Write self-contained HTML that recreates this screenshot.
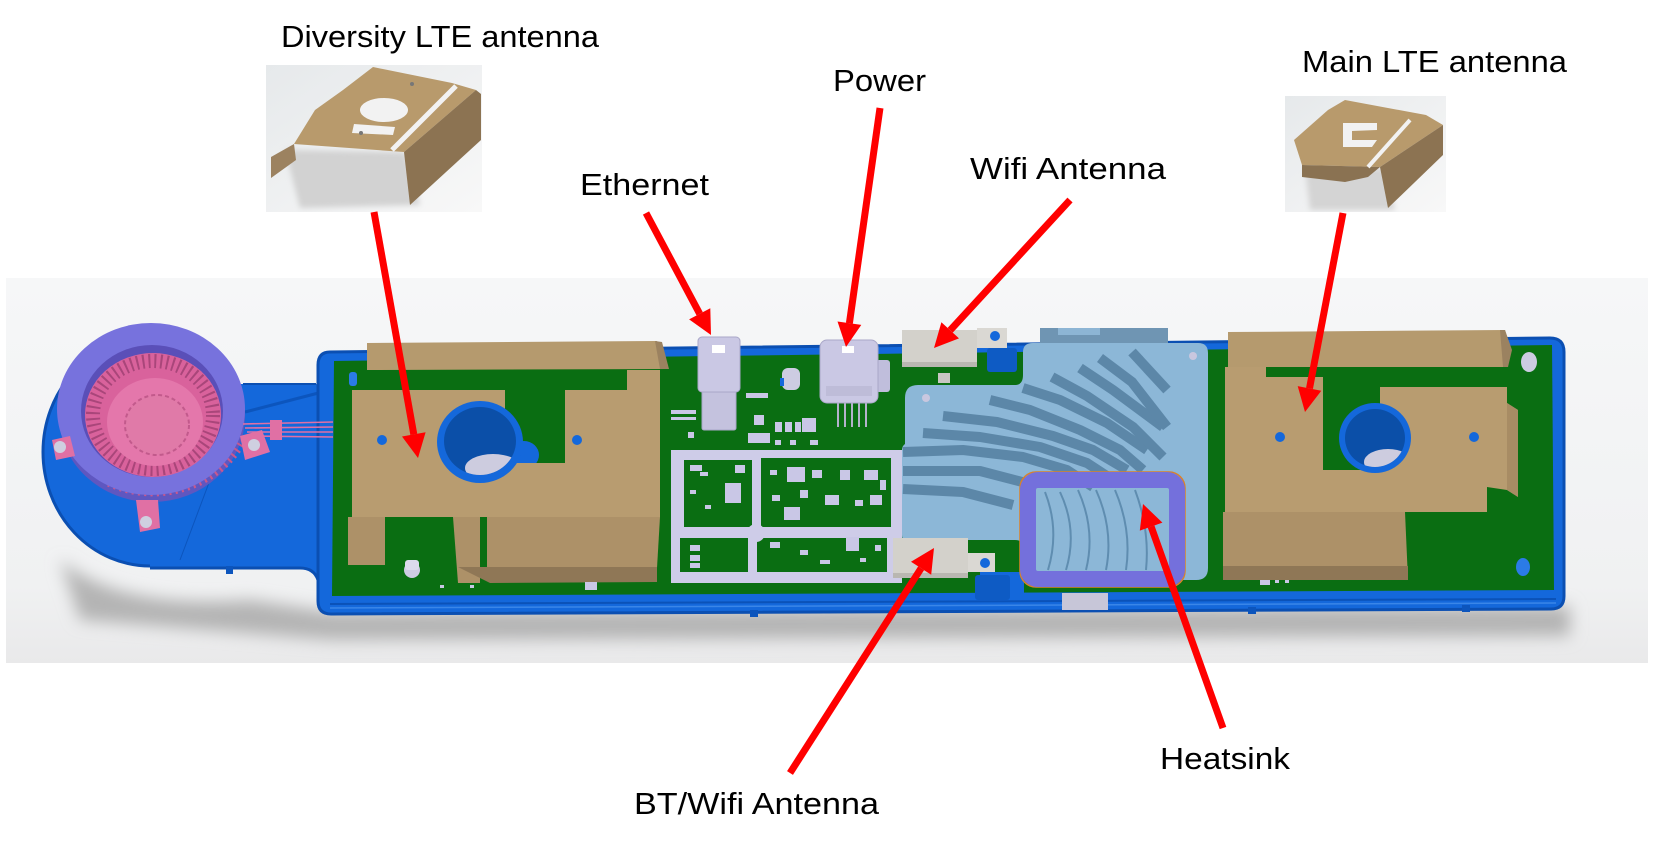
<!DOCTYPE html>
<html><head><meta charset="utf-8"><style>html,body{margin:0;padding:0;background:#fff;}svg{display:block}</style></head>
<body>
<svg xmlns="http://www.w3.org/2000/svg" width="1660" height="844" viewBox="0 0 1660 844">
<defs>
 <linearGradient id="panel" x1="0" y1="0" x2="0" y2="1">
  <stop offset="0" stop-color="#f6f7f8"/>
  <stop offset="0.8" stop-color="#f0f1f2"/>
  <stop offset="1" stop-color="#e9e9ea"/>
 </linearGradient>
 <linearGradient id="thumb" x1="0" y1="0" x2="1" y2="1"><stop offset="0" stop-color="#e6e9eb"/><stop offset="1" stop-color="#f8f8f8"/></linearGradient>
 <filter id="blur8" x="-20%" y="-100%" width="140%" height="300%"><feGaussianBlur stdDeviation="8"/></filter>
 <filter id="blur3" x="-20%" y="-50%" width="140%" height="200%"><feGaussianBlur stdDeviation="3"/></filter>
 <clipPath id="panelclip"><rect x="6" y="278" width="1642" height="385"/></clipPath>
 <clipPath id="hsclip"><path d="M905 398 Q905 385 918 385 L1015 385 Q1023 385 1023 375 L1023 352 Q1023 343 1033 343 L1198 343 Q1208 343 1208 353 L1208 568 Q1208 580 1196 580 L1033 580 Q1023 580 1023 570 L1023 548 Q1023 540 1015 540 L905 540 Q902 540 902 535 L902 450 Q902 446 905 444 Z"/></clipPath>
 <clipPath id="cylL"><ellipse cx="480" cy="441" rx="36" ry="34"/></clipPath>
 <clipPath id="cylR"><ellipse cx="1375" cy="438" rx="30" ry="29"/></clipPath>
 <clipPath id="thL"><rect x="266" y="65" width="216" height="147"/></clipPath>
 <clipPath id="thR"><rect x="1285" y="96" width="161" height="116"/></clipPath>
</defs>
<rect width="1660" height="844" fill="#fff"/>

<rect x="6" y="278" width="1642" height="385" fill="url(#panel)"/>
<g clip-path="url(#panelclip)">
 <path d="M60 560 Q120 610 250 600 L330 612 L1570 606 L1570 636 L330 640 L80 620 Z" fill="#b4b4b4" filter="url(#blur8)"/>
</g>

<ellipse cx="150" cy="452" rx="107" ry="114" fill="#1468db" stroke="#0b4fb2" stroke-width="3"/>
<path d="M150 384 L316 384 Q328 384 331 372 L336 360 L340 578 L318 578 Q314 568 300 568 L150 568 Z" fill="#1468db"/>
<path d="M150 568 L300 568 Q314 568 318 580" fill="none" stroke="#0b4fb2" stroke-width="3"/>
<path d="M243 384 L316 384" stroke="#0b4fb2" stroke-width="2"/>
<path d="M245 412 L330 390" stroke="#0c55bd" stroke-width="3"/>
<path d="M210 480 L180 560" stroke="#0c55bd" stroke-width="1"/>
<rect x="226" y="566" width="7" height="8" fill="#0c55bd"/>

<path d="M330 352 L1550 338 Q1564 338 1564 352 L1564 596 Q1564 609 1551 609 L331 614 Q318 614 318 601 L318 365 Q318 352 330 352 Z" fill="#1468db" stroke="#0b4fb2" stroke-width="3"/>
<path d="M330 604 L1556 599" stroke="#0b52b8" stroke-width="2"/>
<path d="M330 608 L1556 603" stroke="#3a86e8" stroke-width="1.5"/>
<rect x="750" y="610" width="8" height="7" fill="#0c55bd"/>
<rect x="1248" y="607" width="8" height="7" fill="#0c55bd"/>
<rect x="1462" y="605" width="8" height="7" fill="#0c55bd"/>
<rect x="1062" y="593" width="46" height="17" fill="#c7c6d8"/>

<path d="M334 361 L1552 345 L1554 590 L332 596 Z" fill="#0a6e12"/>
<rect x="980" y="572" width="44" height="22" fill="#1468db"/>

<ellipse cx="152" cy="416" rx="93" ry="86" fill="#5f57c0"/>
<path d="M110 480 A98 92 0 0 0 240 440" fill="none" stroke="#c8588e" stroke-width="14" stroke-dasharray="2 4"/>
<ellipse cx="151" cy="409" rx="94" ry="86" fill="#7772dd"/>
<ellipse cx="152" cy="411" rx="71" ry="66" fill="#5a4fb8"/>
<ellipse cx="153" cy="415" rx="68" ry="62" fill="#d9629c"/>
<ellipse cx="153" cy="415" rx="60" ry="54" fill="none" stroke="#a9467a" stroke-width="14" stroke-dasharray="2 4"/>
<ellipse cx="155" cy="422" rx="48" ry="44" fill="#e477ab"/>
<ellipse cx="157" cy="425" rx="32" ry="30" fill="#e07aa8" stroke="#c25a8c" stroke-width="2" stroke-dasharray="4 3"/>
<path d="M52 440 L70 436 L75 456 L56 460 Z" fill="#e070a4"/>
<circle cx="60" cy="447" r="6" fill="#cfcfe0"/>
<path d="M240 436 L262 430 L270 452 L245 460 Z" fill="#e070a4"/>
<circle cx="254" cy="445" r="6" fill="#cfcfe0"/>
<path d="M136 500 L158 500 L160 528 L140 532 Z" fill="#e070a4"/>
<circle cx="146" cy="522" r="6" fill="#cfcfe0"/>
<g stroke="#e070a4" stroke-width="1.6">
 <path d="M243 424 L333 422"/><path d="M245 428 L333 427"/><path d="M247 432 L333 432"/><path d="M249 436 L333 437"/>
</g>
<rect x="270" y="420" width="12" height="20" fill="#e070a4"/>

<rect x="349" y="372" width="8" height="14" rx="3" fill="#2b7be6"/>
<circle cx="412" cy="570" r="8" fill="#cdcce2"/>
<rect x="405" y="560" width="14" height="10" rx="3" fill="#dcdbec"/>
<ellipse cx="524" cy="455" rx="15" ry="14" fill="#1468db"/>
<path d="M367 343 L657 341 L667 369 L367 370 Z" fill="#b59a6e"/>
<path d="M655 341 L662 342 L669 369 L660 369 Z" fill="#9b8260"/>
<path d="M352 390 L505 390 L505 463 L565 463 L565 390 L627 390 L627 370 L660 370 L660 517 L352 517 Z" fill="#b89c70"/>
<path d="M348 517 L385 517 L385 565 L348 565 Z" fill="#ad9168"/>
<path d="M453 517 L480 517 L480 583 L458 583 Z" fill="#ad9168"/>
<path d="M487 517 L660 517 L657 568 L487 568 Z" fill="#ad9168"/>
<path d="M458 567 L657 567 L657 582 L490 583 Z" fill="#8f7756"/>
<ellipse cx="480" cy="442" rx="43" ry="41" fill="#1468db"/>
<ellipse cx="480" cy="441" rx="36" ry="34" fill="#0b4fa8"/>
<ellipse cx="493" cy="468" rx="28" ry="14" fill="#cdccdf" clip-path="url(#cylL)"/>
<circle cx="382" cy="440" r="5" fill="#1468db"/>
<circle cx="577" cy="440" r="5" fill="#1468db"/>

<rect x="702" y="388" width="34" height="42" rx="2" fill="#c4c2de" stroke="#a9a7c8" stroke-width="1"/>
<rect x="698" y="337" width="42" height="55" rx="4" fill="#cac8e4" stroke="#a9a7c8" stroke-width="1"/>
<rect x="712" y="345" width="13" height="8" fill="#fff"/>
<rect x="782" y="368" width="18" height="22" rx="6" fill="#cdcce2"/>
<rect x="780" y="378" width="4" height="8" fill="#1468db"/>
<g stroke="#b4b2cc" stroke-width="2"><path d="M838 400 V427"/><path d="M845 400 V427"/><path d="M852 400 V427"/><path d="M859 400 V427"/><path d="M866 400 V427"/></g>
<rect x="876" y="360" width="14" height="32" rx="3" fill="#c0bedc"/>
<rect x="820" y="340" width="58" height="63" rx="7" fill="#cac8e4" stroke="#a9a7c8" stroke-width="1"/>
<rect x="826" y="386" width="46" height="10" fill="#bebcd8"/>
<rect x="842" y="346" width="12" height="7" fill="#fff"/>
<g fill="#c9c7e6">
 <rect x="671" y="410" width="25" height="4"/><rect x="671" y="417" width="25" height="3"/><rect x="688" y="432" width="6" height="6"/>
 <rect x="746" y="393" width="22" height="5"/><rect x="754" y="415" width="10" height="10"/>
 <rect x="775" y="422" width="7" height="10"/><rect x="785" y="422" width="7" height="10"/><rect x="795" y="422" width="6" height="10"/>
 <rect x="802" y="418" width="14" height="14"/><rect x="748" y="433" width="22" height="10"/>
 <rect x="775" y="440" width="6" height="5"/><rect x="790" y="440" width="6" height="5"/><rect x="810" y="440" width="8" height="5"/>
 <rect x="440" y="585" width="4" height="3"/><rect x="470" y="585" width="4" height="3"/><rect x="585" y="582" width="12" height="8"/>
 <rect x="1260" y="578" width="10" height="7"/><rect x="1275" y="580" width="4" height="3"/><rect x="1285" y="580" width="4" height="3"/>
</g>
<rect x="671" y="450" width="231" height="133" fill="#cecce8"/>
<g fill="#0a6e12">
 <rect x="684" y="460" width="68" height="67"/><rect x="761" y="458" width="130" height="69"/>
 <rect x="680" y="538" width="68" height="34"/><rect x="757" y="538" width="130" height="34"/>
</g>
<circle cx="756" cy="533" r="9" fill="#cecce8"/>
<g fill="#c9c7e6">
 <rect x="725" y="483" width="16" height="20"/><rect x="690" y="465" width="12" height="6"/><rect x="700" y="472" width="8" height="4"/>
 <rect x="690" y="490" width="6" height="4"/><rect x="705" y="505" width="6" height="4"/><rect x="735" y="465" width="10" height="8"/>
 <rect x="787" y="467" width="18" height="15"/><rect x="784" y="507" width="16" height="13"/><rect x="825" y="495" width="14" height="10"/>
 <rect x="864" y="470" width="14" height="10"/><rect x="870" y="495" width="12" height="10"/><rect x="812" y="470" width="10" height="8"/>
 <rect x="840" y="470" width="10" height="10"/><rect x="800" y="490" width="8" height="8"/><rect x="772" y="495" width="8" height="6"/>
 <rect x="855" y="500" width="8" height="6"/><rect x="770" y="470" width="7" height="5"/><rect x="880" y="480" width="6" height="10"/>
 <rect x="690" y="545" width="10" height="6"/><rect x="690" y="555" width="10" height="6"/><rect x="690" y="563" width="10" height="5"/>
 <rect x="846" y="537" width="13" height="14"/><rect x="770" y="542" width="10" height="6"/><rect x="800" y="550" width="8" height="5"/>
 <rect x="860" y="558" width="6" height="4"/><rect x="820" y="560" width="10" height="4"/><rect x="875" y="545" width="6" height="6"/>
</g>

<rect x="987" y="348" width="30" height="24" rx="3" fill="#0e5bc4"/>
<rect x="975" y="575" width="35" height="25" rx="3" fill="#0e5bc4"/>
<rect x="1040" y="328" width="128" height="17" fill="#6f95b3"/>
<rect x="1058" y="328" width="42" height="7" fill="#8db5d4"/>
<path d="M905 398 Q905 385 918 385 L1015 385 Q1023 385 1023 375 L1023 352 Q1023 343 1033 343 L1198 343 Q1208 343 1208 353 L1208 568 Q1208 580 1196 580 L1033 580 Q1023 580 1023 570 L1023 548 Q1023 540 1015 540 L905 540 Q902 540 902 535 L902 450 Q902 446 905 444 Z" fill="#8cb7d7"/>
<g clip-path="url(#hsclip)" fill="none" stroke="#5c87a8" stroke-width="10" stroke-linejoin="round">
 <polyline points="903,452 963,450 1023,457 1067,470 1093,487"/>
 <polyline points="903,471 980,471 1030,484"/>
 <polyline points="903,489 963,492 1013,505"/>
 <polyline points="923,433 980,437 1040,447 1087,463 1113,480"/>
 <polyline points="943,416 997,422 1053,436 1093,450 1127,470"/>
 <polyline points="990,400 1030,410 1080,430 1120,450 1143,470"/>
 <polyline points="1023,388 1060,400 1107,423 1147,450"/>
 <polyline points="1052,377 1087,396 1133,427 1163,457"/>
 <polyline points="1080,368 1113,390 1163,427"/>
 <polyline points="1100,358 1132,382 1167,427"/>
 <polyline points="1132,352 1167,390"/>
</g>
<circle cx="926" cy="398" r="4" fill="#c9c7df"/>
<circle cx="1193" cy="356" r="4" fill="#c9c7df"/>
<g fill="none" stroke="#5f8db0" stroke-width="2">
 <path d="M1045 492 Q1060 530 1048 570"/><path d="M1060 492 Q1078 530 1066 570"/>
 <path d="M1078 490 Q1096 530 1086 570"/><path d="M1096 490 Q1114 530 1106 570"/>
 <path d="M1115 490 Q1132 530 1126 570"/><path d="M1135 490 Q1150 530 1146 570"/>
</g>
<rect x="1020" y="472" width="165" height="115" rx="16" fill="none" stroke="#d9822b" stroke-width="1.5"/>
<rect x="1028" y="480" width="149" height="99" rx="10" fill="none" stroke="#7470dc" stroke-width="16"/>

<rect x="902" y="330" width="75" height="37" fill="#d3d1cb"/>
<rect x="902" y="362" width="75" height="5" fill="#b9b7b1"/>
<rect x="977" y="328" width="30" height="20" fill="#dad8d3"/>
<circle cx="995" cy="336" r="5" fill="#1468db"/>
<rect x="938" y="373" width="12" height="10" fill="#c8c6c2"/>
<rect x="893" y="538" width="75" height="40" fill="#d3d1cb"/>
<rect x="893" y="573" width="75" height="5" fill="#b9b7b1"/>
<rect x="968" y="553" width="27" height="19" fill="#dad8d3"/>
<circle cx="985" cy="563" r="5" fill="#1468db"/>

<ellipse cx="1529" cy="362" rx="8" ry="10" fill="#cdcce2"/>
<ellipse cx="1523" cy="567" rx="7" ry="9" fill="#2b7be6"/>
<path d="M1228 332 L1505 330 L1511 350 L1507 367 L1228 367 Z" fill="#b59a6e"/>
<path d="M1500 330 L1505 330 L1512 350 L1508 367 L1503 367 Z" fill="#9b8260"/>
<path d="M1225 367 L1266 367 L1266 377 L1323 377 L1323 470 L1380 470 L1380 387 L1507 387 L1507 403 L1518 410 L1518 497 L1507 490 L1487 487 L1487 512 L1225 512 Z" fill="#b89c70"/>
<path d="M1507 403 L1518 410 L1518 497 L1507 490 Z" fill="#a88c64"/>
<path d="M1223 512 L1405 512 L1408 580 L1223 580 Z" fill="#ad9168"/>
<path d="M1223 566 L1408 566 L1408 580 L1223 580 Z" fill="#8f7756"/>
<ellipse cx="1375" cy="438" rx="36" ry="35" fill="#1468db"/>
<ellipse cx="1375" cy="438" rx="30" ry="29" fill="#0b4fa8"/>
<ellipse cx="1388" cy="462" rx="24" ry="13" fill="#cdccdf" clip-path="url(#cylR)"/>
<circle cx="1280" cy="437" r="5" fill="#1468db"/>
<circle cx="1474" cy="437" r="5" fill="#1468db"/>

<rect x="266" y="65" width="216" height="147" fill="url(#thumb)"/>
<g clip-path="url(#thL)">
 <path d="M285 150 L405 152 L420 205 L300 208 Z" fill="#d2d2d2" filter="url(#blur3)"/>
 <path d="M373 67 L452 83 L476 90 L404 152 L294 144 L315 110 L343 90 Z" fill="#b89a6c"/>
 <path d="M476 90 L481 94 L481 140 L410 205 L404 152 Z" fill="#8c7352"/>
 <path d="M294 144 L271 157 L271 178 L296 160 Z" fill="#9c8260"/>
 <ellipse cx="384" cy="110" rx="24" ry="12" fill="#f2f2f2"/>
 <path d="M354 124 L395 127 L393 135 L352 133 Z" fill="#f2f2f2"/>
 <path d="M456 86 L392 150" stroke="#f2f2f2" stroke-width="5"/>
 <circle cx="412" cy="84" r="2" fill="#777"/>
 <circle cx="361" cy="133" r="2" fill="#777"/>
</g>
<rect x="1285" y="96" width="161" height="116" fill="url(#thumb)"/>
<g clip-path="url(#thR)">
 <path d="M1305 168 L1385 168 L1395 210 L1310 210 Z" fill="#d4d4d4" filter="url(#blur3)"/>
 <path d="M1345 100 L1426 115 L1443 125 L1380 167 L1302 165 L1294 140 L1328 110 Z" fill="#b89a6c"/>
 <path d="M1443 125 L1443 155 L1388 208 L1380 167 Z" fill="#8c7352"/>
 <path d="M1302 165 L1380 167 L1368 177 L1345 182 L1302 177 Z" fill="#8a7252"/>
 <path d="M1343 123 L1377 123 L1377 130 L1352 131 L1352 140 L1377 140 L1372 147 L1343 147 Z" fill="#f2f2f2"/>
 <path d="M1410 120 L1368 167" stroke="#f2f2f2" stroke-width="4"/>
</g>

<g stroke="#ff0000" stroke-width="7" fill="none">
 <path d="M374 212 L413.8 434.4"/>
 <path d="M646 213 L699.7 313.8"/>
 <path d="M880 108 L849.4 323.2"/>
 <path d="M1070 200 L950.2 330.3"/>
 <path d="M1343 213 L1309.5 388.4"/>
 <path d="M790 773 L921.1 568.2"/>
 <path d="M1223 728 L1151.1 526.6"/>
</g>
<g fill="#ff0000">
 <polygon points="418,458 402,436.5 425.6,432.3"/>
 <polygon points="711,335 689.1,319.4 710.3,308.2"/>
 <polygon points="846,347 837.5,321.5 861.3,324.9"/>
 <polygon points="934,348 941.4,322.2 959,338.4"/>
 <polygon points="1305,412 1297.7,386.1 1321.3,390.7"/>
 <polygon points="934,548 931.2,574.7 911,561.7"/>
 <polygon points="1143,504 1162.4,522.6 1139.8,530.6"/>
</g>

<g font-family="'Liberation Sans', sans-serif" font-size="31" fill="#000">
 <text x="281" y="47" textLength="318" lengthAdjust="spacingAndGlyphs">Diversity LTE antenna</text>
 <text x="580" y="195" textLength="129" lengthAdjust="spacingAndGlyphs">Ethernet</text>
 <text x="833" y="91" textLength="93" lengthAdjust="spacingAndGlyphs">Power</text>
 <text x="970" y="179" textLength="196" lengthAdjust="spacingAndGlyphs">Wifi Antenna</text>
 <text x="1302" y="72" textLength="265" lengthAdjust="spacingAndGlyphs">Main LTE antenna</text>
 <text x="634" y="814" textLength="245" lengthAdjust="spacingAndGlyphs">BT/Wifi Antenna</text>
 <text x="1160" y="769" textLength="130" lengthAdjust="spacingAndGlyphs">Heatsink</text>
</g>
</svg>
</body></html>
